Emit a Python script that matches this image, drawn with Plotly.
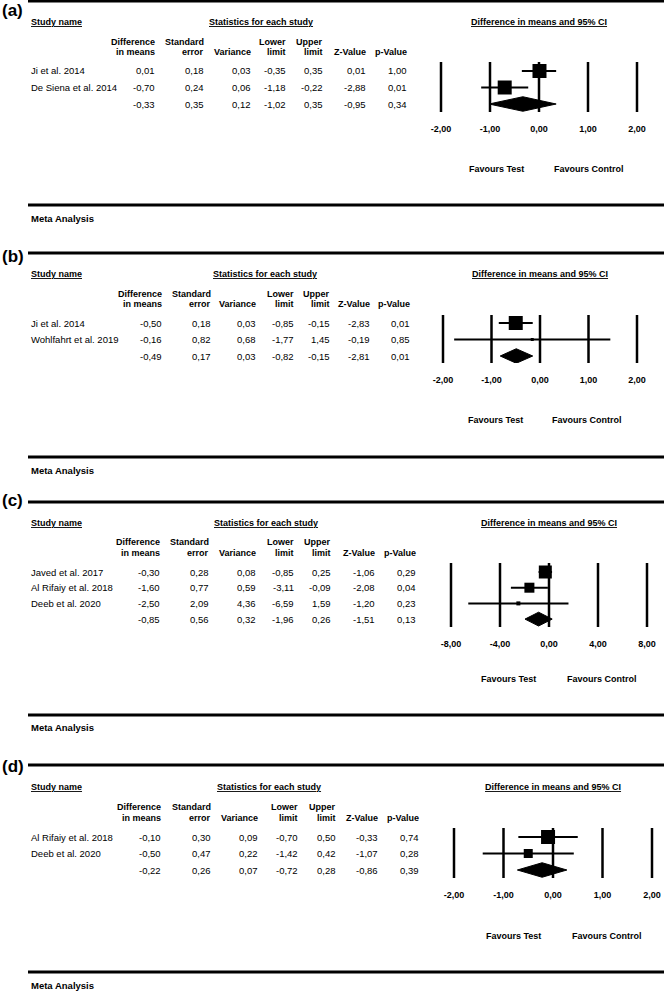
import plotly.graph_objects as go

W, H = 664, 992
FONT = "Liberation Sans, Arial, Helvetica, sans-serif"

# ---------------- data ----------------
a_studies = ["Ji et al. 2014", "De Siena et al. 2014"]
a_diff = [0.01, -0.70, -0.33]
a_se = [0.18, 0.24, 0.35]
a_var = [0.03, 0.06, 0.12]
a_lower = [-0.35, -1.18, -1.02]
a_upper = [0.35, -0.22, 0.35]
a_z = [0.01, -2.88, -0.95]
a_p = [1.00, 0.01, 0.34]

b_studies = ["Ji et al. 2014", "Wohlfahrt et al. 2019"]
b_diff = [-0.50, -0.16, -0.49]
b_se = [0.18, 0.82, 0.17]
b_var = [0.03, 0.68, 0.03]
b_lower = [-0.85, -1.77, -0.82]
b_upper = [-0.15, 1.45, -0.15]
b_z = [-2.83, -0.19, -2.81]
b_p = [0.01, 0.85, 0.01]

c_studies = ["Javed et al. 2017", "Al Rifaiy et al. 2018", "Deeb et al. 2020"]
c_diff = [-0.30, -1.60, -2.50, -0.85]
c_se = [0.28, 0.77, 2.09, 0.56]
c_var = [0.08, 0.59, 4.36, 0.32]
c_lower = [-0.85, -3.11, -6.59, -1.96]
c_upper = [0.25, -0.09, 1.59, 0.26]
c_z = [-1.06, -2.08, -1.20, -1.51]
c_p = [0.29, 0.04, 0.23, 0.13]

d_studies = ["Al Rifaiy et al. 2018", "Deeb et al. 2020"]
d_diff = [-0.10, -0.50, -0.22]
d_se = [0.30, 0.47, 0.26]
d_var = [0.09, 0.22, 0.07]
d_lower = [-0.70, -1.42, -0.72]
d_upper = [0.50, 0.42, 0.28]
d_z = [-0.33, -1.07, -0.86]
d_p = [0.74, 0.28, 0.39]

ticks_2 = [-2, -1, 0, 1, 2]
ticklabels_2 = ["-2,00", "-1,00", "0,00", "1,00", "2,00"]
ticks_8 = [-8, -4, 0, 4, 8]
ticklabels_8 = ["-8,00", "-4,00", "0,00", "4,00", "8,00"]

header_top = ["Difference", "Standard", "", "Lower", "Upper", "", ""]
header_bot = ["in means", "error", "Variance", "limit", "limit", "Z-Value", "p-Value"]
panel_labels = ["(a)", "(b)", "(c)", "(d)"]

# ---------------- layout (pixel positions / styles) ----------------
panels = [
    dict(studies=a_studies, cols_data=[a_diff, a_se, a_var, a_lower, a_upper, a_z, a_p],
         tv=ticks_2, tt=ticklabels_2,
         top=1, label_y=10, hdr=22, h1=42, h2=52, y0=71, sp=16.5,
         cols=[157, 206, 253, 288, 325, 368, 409], stats_x=261,
         fx0=441, fx1=637, vtop=62, vbot=112, title_x=539,
         fav_y=169, fav_x=[496, 589], bottom=205, meta_y=219, box=[14, 14]),
    dict(studies=b_studies, cols_data=[b_diff, b_se, b_var, b_lower, b_upper, b_z, b_p],
         tv=ticks_2, tt=ticklabels_2,
         top=253, label_y=257, hdr=274, h1=294, h2=304, y0=323, sp=16.5,
         cols=[164, 213, 258, 296, 332, 372, 412], stats_x=265,
         fx0=443, fx1=637, vtop=315, vbot=363, title_x=540,
         fav_y=420, fav_x=[495, 587], bottom=457, meta_y=470, box=[14, 3]),
    dict(studies=c_studies, cols_data=[c_diff, c_se, c_var, c_lower, c_upper, c_z, c_p],
         tv=ticks_8, tt=ticklabels_8,
         top=502, label_y=501, hdr=523, h1=542, h2=553, y0=572, sp=15.7,
         cols=[162, 211, 258, 296, 333, 377, 418], stats_x=266,
         fx0=451, fx1=647, vtop=563, vbot=627, title_x=549,
         fav_y=679, fav_x=[508, 602], bottom=715, meta_y=727, box=[13, 10, 4]),
    dict(studies=d_studies, cols_data=[d_diff, d_se, d_var, d_lower, d_upper, d_z, d_p],
         tv=ticks_2, tt=ticklabels_2,
         top=765, label_y=766, hdr=787, h1=807, h2=818, y0=837, sp=16.5,
         cols=[163, 213, 260, 300, 338, 380, 421], stats_x=269,
         fx0=454, fx1=652, vtop=828, vbot=878, title_x=553,
         fav_y=936, fav_x=[513, 607], bottom=972, meta_y=985, box=[14, 9]),
]

TXT = "#000000"
annotations, shapes = [], []


def px(x):
    return x / W


def py(y):
    return 1 - y / H


def fmt(v):
    return f"{v:.2f}".replace(".", ",")


def text(x, y, s, anchor="left", size=9.5, bold=False, underline=False):
    if underline:
        s = f"<u>{s}</u>"
    if bold:
        s = f"<b>{s}</b>"
    annotations.append(dict(x=px(x), y=py(y), xref="paper", yref="paper", text=s,
                            showarrow=False, xanchor=anchor, yanchor="middle",
                            font=dict(family=FONT, size=size, color=TXT)))


fig = go.Figure()
layout_axes = {}
PAD = 10

for i, P in enumerate(panels, start=1):
    sfx = "" if i == 1 else str(i)
    xa, ya = f"x{sfx}", f"y{sfx}"
    n = len(P["studies"])

    # horizontal rules
    for yy in (P["top"], P["bottom"]):
        shapes.append(dict(type="line", xref="paper", yref="paper", x0=px(28), x1=1,
                           y0=py(yy), y1=py(yy), line=dict(color="black", width=3)))

    # labels and headers
    text(0, P["label_y"], panel_labels[i - 1], size=17, bold=True)
    text(29, P["hdr"], "Study name", size=9, bold=True, underline=True)
    text(P["stats_x"], P["hdr"], "Statistics for each study", anchor="center", size=9, bold=True, underline=True)
    text(P["title_x"], P["hdr"], "Difference in means and 95% CI", anchor="center", size=9, bold=True, underline=True)
    for cx, t1, t2 in zip(P["cols"], header_top, header_bot):
        if t1:
            text(cx, P["h1"], t1, anchor="right", size=9, bold=True)
        text(cx, P["h2"], t2, anchor="right", size=9, bold=True)

    # table rows
    for r in range(n + 1):
        yy = P["y0"] + r * P["sp"]
        if r < n:
            text(29, yy, P["studies"][r])
        for cx, col in zip(P["cols"], P["cols_data"]):
            text(cx, yy, fmt(col[r]), anchor="right")

    text(P["fav_x"][0], P["fav_y"], "Favours Test", anchor="center", size=9, bold=True)
    text(P["fav_x"][1], P["fav_y"], "Favours Control", anchor="center", size=9, bold=True)
    text(29, P["meta_y"], "Meta Analysis", size=9.5, bold=True)

    # forest axes
    tv = P["tv"]
    upp = (tv[-1] - tv[0]) / (P["fx1"] - P["fx0"])
    layout_axes[f"xaxis{sfx}"] = dict(
        domain=[px(P["fx0"] - PAD), px(P["fx1"] + PAD)],
        range=[tv[0] - PAD * upp, tv[-1] + PAD * upp],
        anchor=ya, tickvals=tv, ticktext=P["tt"], showgrid=False, zeroline=False,
        showline=False, ticks="", ticklabelstandoff=10,
        tickfont=dict(family=FONT, size=9, color=TXT, weight="bold"), fixedrange=True)
    y0, sp = P["y0"], P["sp"]
    layout_axes[f"yaxis{sfx}"] = dict(
        domain=[py(P["vbot"]), py(P["vtop"])],
        range=[(P["vbot"] - y0) / sp, (P["vtop"] - y0) / sp],
        anchor=xa, visible=False, fixedrange=True)

    # reference lines at each tick
    for v in tv:
        shapes.append(dict(type="line", xref=xa, yref=f"{ya} domain", x0=v, x1=v, y0=0, y1=1,
                           line=dict(color="black", width=2.5), layer="below"))

    diff, lo, hi = P["cols_data"][0], P["cols_data"][3], P["cols_data"][4]
    # CI whiskers
    cx_, cy_ = [], []
    for r in range(n):
        cx_ += [lo[r], hi[r], None]
        cy_ += [r, r, None]
    fig.add_trace(go.Scatter(x=cx_, y=cy_, mode="lines", line=dict(color="black", width=2),
                             xaxis=xa, yaxis=ya, showlegend=False, hoverinfo="skip", cliponaxis=False))
    # point estimates
    fig.add_trace(go.Scatter(x=diff[:n], y=list(range(n)), mode="markers",
                             marker=dict(symbol="square", size=P["box"], color="black",
                                         opacity=1, line=dict(width=0)),
                             xaxis=xa, yaxis=ya, showlegend=False, cliponaxis=False))
    # summary diamond
    h = 0.44
    fig.add_trace(go.Scatter(x=[lo[n], diff[n], hi[n], diff[n], lo[n]],
                             y=[n, n - h, n, n + h, n], mode="lines", fill="toself",
                             fillcolor="black", line=dict(color="black", width=1),
                             xaxis=xa, yaxis=ya, showlegend=False, cliponaxis=False))

fig.update_layout(width=W, height=H, margin=dict(l=0, r=0, t=0, b=0),
                  paper_bgcolor="white", plot_bgcolor="rgba(0,0,0,0)",
                  annotations=annotations, shapes=shapes, showlegend=False,
                  font=dict(family=FONT, color=TXT), **layout_axes)

fig.write_html("out.html", config={"displayModeBar": False},
               post_script="document.body.style.margin='0px';")
